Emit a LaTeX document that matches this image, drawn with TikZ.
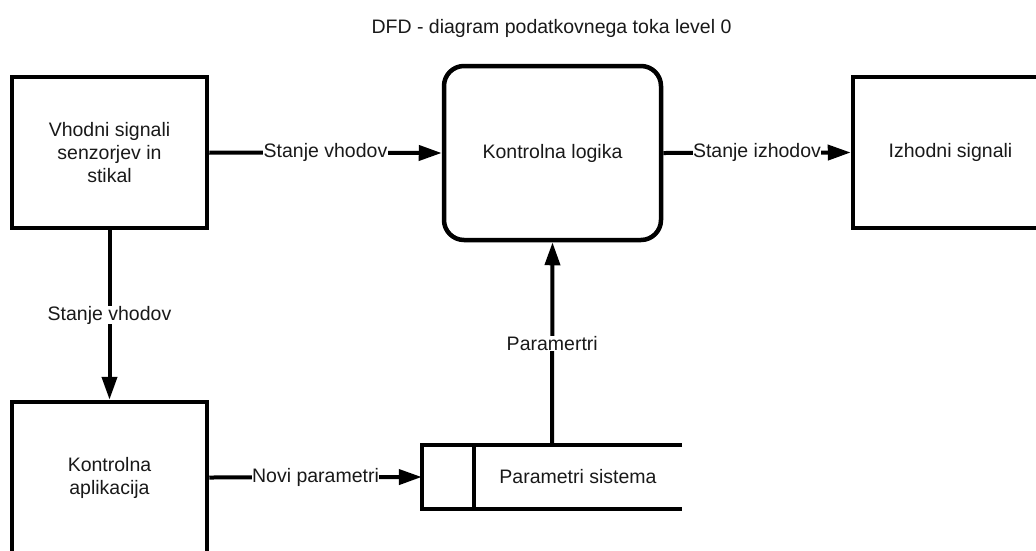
\documentclass[tikz,border=0pt]{standalone}
\usepackage{fontspec}
\setmainfont{Liberation Sans}
\usetikzlibrary{arrows.meta}
\begin{document}
\begin{tikzpicture}[x=1pt,y=-1pt,
  every node/.style={font=\fontsize{19.5}{23}\selectfont, align=center, text=black!90},
  proc/.style={draw, line width=4.5pt, minimum width=195pt, minimum height=151pt, inner sep=0pt},
  flow/.style={line width=4pt, -{Triangle[length=23pt,width=15pt]}},
  lbl/.style={fill=white, inner sep=0.3pt},
  wall/.style={line width=4.5pt, line join=miter}]
\useasboundingbox (0,0) rectangle (1036,550);
\clip (0,0) rectangle (1036,550);
\fill[white] (0,0) rectangle (1036,550);

\node (title) at (551.5,28) {DFD - diagram podatkovnega toka level 0};

\node[proc] (in1) at (109.5,152.5) {Vhodni signali\\senzorjev in\\stikal};
\node[proc] (app) at (109.5,477.5) {Kontrolna\\aplikacija};
\node[proc] (out1) at (950.5,152.5) {Izhodni signali};
\node[draw, line width=4.5pt, rounded corners=20pt, minimum width=217pt, minimum height=174pt, inner sep=0pt] (logic) at (552.5,153) {Kontrolna logika};

\node[minimum width=260pt, minimum height=64pt, inner sep=0pt] (store) at (552,477) {};
\node (storelbl) at (578,477) {Parametri sistema};
\draw[wall] (store.north east) -- (store.north west) -- (store.south west) -- (store.south east);
\draw[wall] ([xshift=52pt]store.north west) -- ([xshift=52pt]store.south west);

\draw[flow] (in1.east) -- node[lbl] {Stanje vhodov} (logic.west);
\draw[flow] (logic.east) -- node[lbl] {Stanje izhodov} (out1.west);
\draw[flow] (in1.south) -- node[lbl] {Stanje vhodov} (app.north);
\draw[flow] (app.east) -- node[lbl] {Novi parametri} (store.west);
\draw[flow] (store.north) -- node[lbl] {Paramertri} (logic.south);
\end{tikzpicture}
\end{document}
